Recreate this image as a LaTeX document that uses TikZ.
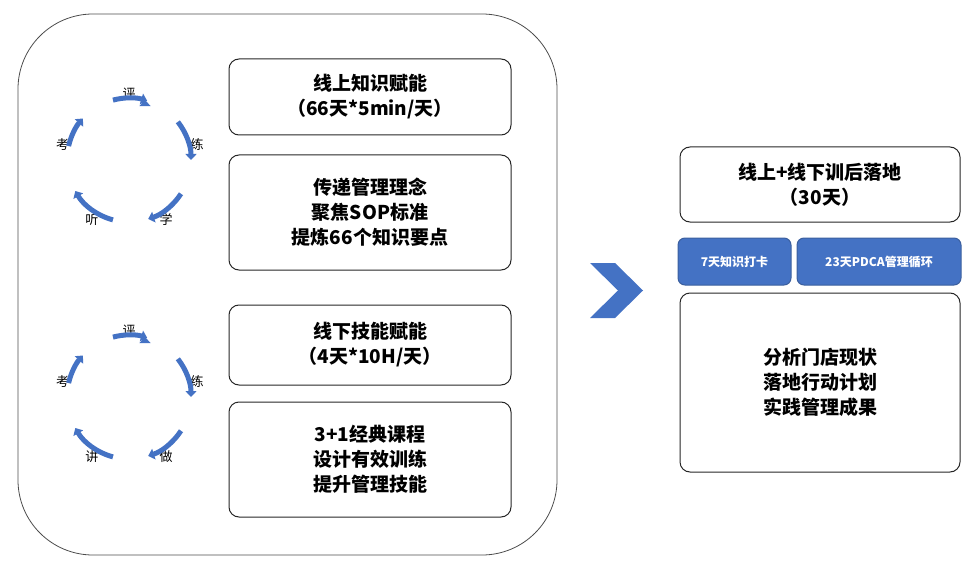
\documentclass[tikz,border=0pt]{standalone}
\usepackage{fontspec}
\setmainfont{Noto Sans CJK SC}
\usetikzlibrary{arrows.meta}
\definecolor{bl}{HTML}{4472C4}
\definecolor{bd}{HTML}{3B5F9E}
\begin{document}
\begin{tikzpicture}[x=1pt,y=-1pt,
 box/.style={draw=black!85,line width=1pt,rounded corners=10pt,align=center,font=\fontsize{19}{25}\selectfont\bfseries},
 bbox/.style={draw=bd,fill=bl,line width=1pt,rounded corners=7pt,align=center,text=white,font=\fontsize{12}{14}\selectfont\bfseries},
 lab/.style={font=\fontsize{13}{15}\selectfont},
 cyc/.style={draw=bl,line width=5pt,-{Triangle[length=6pt,width=11pt]}}]
\useasboundingbox (0,0) rectangle (974,564);
\draw[black!70,line width=0.8pt,rounded corners=75pt] (18,14) rectangle (557,555);
\node[box,minimum width=282pt,minimum height=76pt] (b1) at (370,97) {线上知识赋能\\（66天*5min/天）};
\node[box,minimum width=282pt,minimum height=115pt] (b2) at (370,212.5) {传递管理理念\\聚焦SOP标准\\提炼66个知识要点};
\node[box,minimum width=282pt,minimum height=80pt] (b3) at (370,345) {线下技能赋能\\（4天*10H/天）};
\node[box,minimum width=282pt,minimum height=115pt] (b4) at (370,459.5) {3+1经典课程\\设计有效训练\\提升管理技能};
\node[box,minimum width=280pt,minimum height=75pt] (r1) at (820,184.5) {线上+线下训后落地\\（30天）};
\node[bbox,minimum width=113pt,minimum height=47pt] (r2) at (734.5,261.5) {7天知识打卡};
\node[bbox,minimum width=164pt,minimum height=47pt] (r3) at (879,261.5) {23天PDCA管理循环};
\node[box,minimum width=280pt,minimum height=179pt] (r4) at (820,382.5) {分析门店现状\\落地行动计划\\实践管理成果};
\fill[bl] (590,263) -- (615,263) -- (643,290.5) -- (615,318) -- (590,318) -- (618,290.5) -- cycle;
\foreach \cy/\a/\b in {160/听/学,397/讲/做}{
 \begin{scope}[shift={(129,\cy)}]
 \node[lab] at (122:70) {\a};
 \node[lab] at (58:70) {\b};
 \node[lab] at (-13:70) {练};
 \node[lab] at (-90:66) {评};
 \node[lab] at (193:68) {考};
 \draw[cyc] (105:-62) ++(0,0);
 \end{scope}}
\foreach \cy in {160,397}{
 \begin{scope}[shift={(129,\cy)},y=1pt]
 \draw[cyc] (105:62) arc[start angle=105,end angle=73,radius=62];
 \draw[cyc] (38:62) arc[start angle=38,end angle=0,radius=62];
 \draw[cyc] (-33:62) arc[start angle=-33,end angle=-72,radius=62];
 \draw[cyc] (-105:62) arc[start angle=-105,end angle=-150,radius=62];
 \draw[cyc] (167:62) arc[start angle=167,end angle=138,radius=62];
 \end{scope}}
\end{tikzpicture}
\end{document}
